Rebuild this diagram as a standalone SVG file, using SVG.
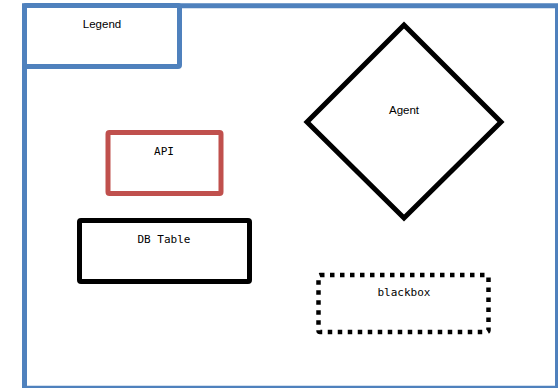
<svg xmlns="http://www.w3.org/2000/svg" width="558" height="388" viewBox="0 0 558 388">
<style>
.lbl{font-family:"Liberation Sans","DejaVu Sans",sans-serif;font-size:11.5px;fill:#000;text-anchor:middle}
.mono{font-family:"DejaVu Sans Mono","Liberation Mono",monospace;font-size:11px;fill:#000;text-anchor:middle}
.blk{fill:#fff;stroke:#000;stroke-width:5}
</style>
<rect width="558" height="388" fill="#fff"/>
<g id="frame"><rect x="24.5" y="5.75" width="533" height="382.5" fill="#fff" stroke="#4F81BD" stroke-width="5"/></g>
<g id="legend"><rect x="24.5" y="5.5" width="155" height="61" rx="1.5" fill="#fff" stroke="#4F81BD" stroke-width="5"/><text class="lbl" x="102" y="28">Legend</text></g>
<g id="agent"><polygon class="blk" points="404,25 501,122 404,218 307,122" stroke-linejoin="miter"/><text class="lbl" x="404" y="114">Agent</text></g>
<g id="api"><rect x="108" y="132.5" width="113" height="61" rx="1.5" fill="#fff" stroke="#C0504D" stroke-width="5"/><text class="mono" x="164" y="155">API</text></g>
<g id="dbtable"><rect class="blk" x="79.5" y="220.5" width="170" height="61" rx="1.5"/><text class="mono" x="164" y="243">DB Table</text></g>
<g id="blackbox"><rect x="318.5" y="275" width="170" height="57" rx="1.5" fill="#fff" stroke="#000" stroke-width="4.5" stroke-dasharray="4.5 5.5"/><text class="mono" x="404" y="296">blackbox</text></g>
<g id="connectors"></g>
</svg>
